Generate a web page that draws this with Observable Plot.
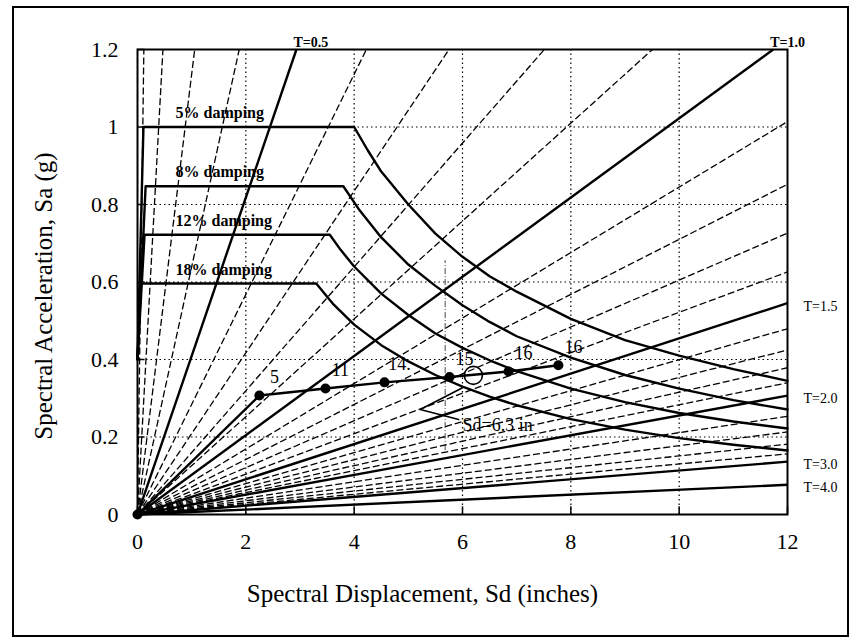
<!DOCTYPE html>
<html><head><meta charset="utf-8">
<script src="https://cdn.jsdelivr.net/npm/d3@7"></script>
<script src="https://cdn.jsdelivr.net/npm/@observablehq/plot@0.6"></script>
<style>
body{margin:0;background:#fff;}
#wrap{position:relative;width:860px;height:641px;background:#fff;}
#border{position:absolute;left:12px;top:6px;width:833px;height:627px;border:2.5px solid #000;pointer-events:none;}
</style></head><body><div id="wrap"><div id="chart"></div><div id="border"></div></div>
<script>
// ---- data ----
const xTicks = [0, 2, 4, 6, 8, 10, 12];
const xTickLabels = ["0", "2", "4", "6", "8", "10", "12"];
const yTicks = [0, 0.2, 0.4, 0.6, 0.8, 1, 1.2];
const yTickLabels = ["0", "0.2", "0.4", "0.6", "0.8", "1", "1.2"];
const gridX = [2, 4, 6, 8, 10];
const gridY = [0.2, 0.4, 0.6, 0.8, 1.0];

// constant-period lines (seconds)
const periods = [0.1,0.2,0.3,0.4,0.5,0.6,0.7,0.8,0.9,1.0,1.1,1.2,1.3,1.4,1.5,1.6,1.7,1.8,1.9,2.0,2.2,2.4,2.6,2.8,3.0,4.0];
const majorPeriods = [0.5, 1.0, 1.5, 2.0, 3.0, 4.0];
const periodLabels = ["T=0.5", "T=1.0", "T=1.5", "T=2.0", "T=3.0", "T=4.0"];

// demand spectra
const dampingNames = ["5% damping", "8% damping", "12% damping", "18% damping"];
const d5Sd  = [0, 0.11, 4.0, 4.25, 4.5, 5, 5.5, 6, 6.5, 7, 8, 9, 10, 11, 12];
const d5Sa  = [0.4, 1.0, 1.0, 0.94, 0.885, 0.80, 0.725, 0.665, 0.615, 0.575, 0.505, 0.45, 0.41, 0.375, 0.345];
const d8Sd  = [0, 0.15, 3.8, 4.1, 4.5, 5, 5.5, 6, 6.5, 7, 8, 9, 10, 11, 12];
const d8Sa  = [0.4, 0.847, 0.847, 0.785, 0.715, 0.645, 0.59, 0.54, 0.497, 0.46, 0.405, 0.36, 0.325, 0.295, 0.271];
const d12Sd = [0, 0.13, 3.55, 3.75, 4, 4.5, 5, 5.5, 6, 6.5, 7, 8, 9, 10, 11, 12];
const d12Sa = [0.4, 0.722, 0.722, 0.683, 0.64, 0.57, 0.515, 0.467, 0.43, 0.398, 0.37, 0.325, 0.29, 0.262, 0.24, 0.222];
const d18Sd = [0, 0.06, 3.3, 3.6, 4, 4.5, 5, 5.5, 6, 6.5, 7, 8, 9, 10, 11, 12];
const d18Sa = [0.4, 0.596, 0.596, 0.545, 0.49, 0.437, 0.395, 0.36, 0.33, 0.304, 0.282, 0.246, 0.219, 0.197, 0.18, 0.165];

// capacity curve
const capSd = [0, 2.25, 3.47, 4.56, 5.76, 6.85, 7.77];
const capSa = [0, 0.307, 0.325, 0.341, 0.355, 0.369, 0.385];
const capLabels = ["", "5", "11", "14.", "15", "16", "16"];

// performance point annotation
const perfSd = [6.2];
const perfSa = [0.359];
const perfText = ["Sd=6.3 in"];
const textSd = [6.0];
const textSa = [0.23];
const leaderSd = [5.93, 5.22, 6.0];
const leaderSa = [0.245, 0.271, 0.327];
const markerSd = [5.68];
const markerSa = [0.165, 0.655];

// ---- build tables ----
const K = 4 * Math.PI * Math.PI / 386.1; // Sa(g) per inch of Sd for T=1 s
const SDMAX = 12, SAMAX = 1.2;
const periodRows = periods.map(T => {
  const slope = K / (T * T);
  const sdTop = SAMAX / slope;
  return sdTop <= SDMAX
    ? {T, x2: sdTop, y2: SAMAX, top: true, major: majorPeriods.includes(T)}
    : {T, x2: SDMAX, y2: slope * SDMAX, top: false, major: majorPeriods.includes(T)};
});
const labelRows = majorPeriods.map((T, i) => ({...periodRows.find(r => r.T === T), label: periodLabels[i]}));

const curves = [[d5Sd, d5Sa], [d8Sd, d8Sa], [d12Sd, d12Sa], [d18Sd, d18Sa]];
const demand = curves.flatMap(([xs, ys], c) => xs.map((x, i) => ({c, x, y: ys[i]})));
const dampLabelRows = curves.map(([xs, ys], c) => ({name: dampingNames[c], y: ys[2]}));
const cap = capSd.map((x, i) => ({x, y: capSa[i], label: capLabels[i]}));
const leader = leaderSd.map((x, i) => ({x, y: leaderSa[i]}));

const serif = "'Liberation Serif', 'DejaVu Serif', serif";

const chart = Plot.plot({
  width: 860, height: 641,
  marginLeft: 137, marginRight: 73, marginTop: 49, marginBottom: 127,
  x: {domain: [0, 12], axis: null},
  y: {domain: [0, 1.2], axis: null},
  style: {fontFamily: serif, background: "white", overflow: "visible", color: "black"},
  marks: [
    // dotted grid
    Plot.ruleX(gridX, {y1: 0, y2: 1.2, stroke: "black", strokeWidth: 1.2, strokeDasharray: "1.5,3"}),
    Plot.ruleY(gridY, {x1: 0, x2: 12, stroke: "black", strokeWidth: 1.2, strokeDasharray: "1.5,3"}),
    Plot.ruleX([markerSd[0]], {y1: markerSa[0], y2: markerSa[1], stroke: "#333", strokeWidth: 0.9, strokeDasharray: "6,2,1,2"}),
    // period lines
    Plot.link(periodRows.filter(d => !d.major), {x1: 0, y1: 0, x2: "x2", y2: "y2", stroke: "black", strokeWidth: 1.3, strokeDasharray: "7,3"}),
    Plot.link(periodRows.filter(d => d.major), {x1: 0, y1: 0, x2: "x2", y2: "y2", stroke: "black", strokeWidth: 2.4}),
    // demand spectra
    Plot.line(demand, {x: "x", y: "y", z: "c", stroke: "black", strokeWidth: 2.4, strokeLinejoin: "round"}),
    // capacity curve
    Plot.line(cap, {x: "x", y: "y", stroke: "black", strokeWidth: 2.4}),
    Plot.dot(cap, {x: "x", y: "y", r: 5, fill: "black"}),
    Plot.text(cap, {x: "x", y: "y", text: "label", dx: 15, dy: -18, fontSize: 18, fill: "black"}),
    // performance point
    Plot.dot(perfSd.map((x, i) => ({x, y: perfSa[i]})), {x: "x", y: "y", r: 9, stroke: "black", strokeWidth: 1.6, fill: "none"}),
    Plot.line(leader, {x: "x", y: "y", stroke: "black", strokeWidth: 1.6}),
    Plot.text(textSd.map((x, i) => ({x, y: textSa[i], t: perfText[i]})), {x: "x", y: "y", text: "t", textAnchor: "start", fontSize: 18, fill: "black"}),
    // damping labels
    Plot.text(dampLabelRows, {y: "y", text: "name", frameAnchor: "left", dx: 38, dy: -14, textAnchor: "start", fontSize: 16, fontWeight: "bold", fill: "black"}),
    // period labels
    Plot.text(labelRows.filter(d => d.top), {x: "x2", y: "y2", text: "label", textAnchor: "start", dx: -3, dy: -7, fontSize: 14, fontWeight: "bold", fill: "black"}),
    Plot.text(labelRows.filter(d => !d.top), {x: "x2", y: "y2", text: "label", textAnchor: "start", dx: 16, dy: 3, fontSize: 14, fill: "black"}),
    // inward ticks
    Plot.ruleX(xTicks, {y1: 0, y2: 0.02, stroke: "black", strokeWidth: 1.5}),
    Plot.ruleY(yTicks, {x1: 0, x2: 0.14, stroke: "black", strokeWidth: 1.5}),
    Plot.frame({stroke: "black", strokeWidth: 2}),
    // tick labels
    Plot.text(xTicks, {x: d => d, text: (d, i) => xTickLabels[i], frameAnchor: "bottom", dy: 34, fontSize: 22, fill: "black"}),
    Plot.text(yTicks, {y: d => d, text: (d, i) => yTickLabels[i], frameAnchor: "left", dx: -19, textAnchor: "end", fontSize: 22, fill: "black"}),
    // axis titles
    Plot.text(["Spectral Displacement, Sd (inches)"], {frameAnchor: "bottom", dx: -40, dy: 87, textAnchor: "middle", fontSize: 25, fill: "black"}),
    Plot.text(["Spectral Acceleration, Sa (g)"], {frameAnchor: "left", dx: -94, dy: 14, rotate: -90, textAnchor: "middle", fontSize: 25, fill: "black"})
  ]
});
document.getElementById("chart").appendChild(chart);
</script></body></html>
